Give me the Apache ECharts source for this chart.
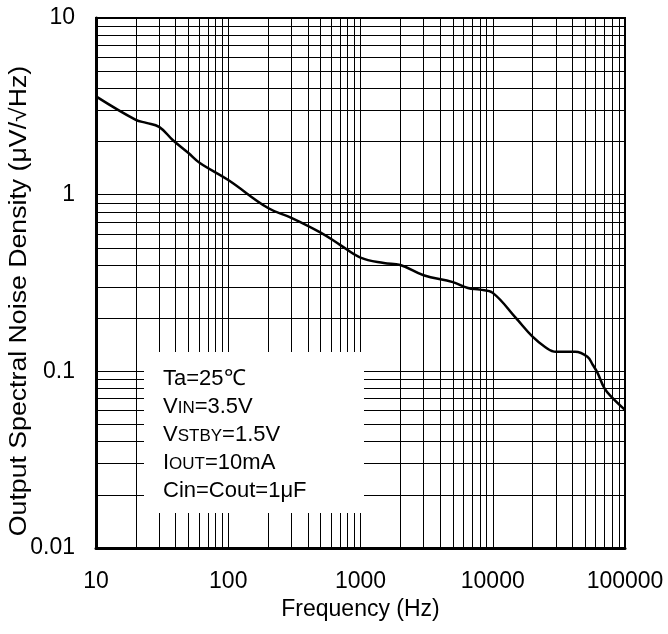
<!DOCTYPE html>
<html>
<head>
<meta charset="utf-8">
<script src="https://cdn.jsdelivr.net/npm/echarts@6.0.0/dist/echarts.min.js"></script>
<style>
  html, body { margin: 0; padding: 0; background: #fff; }
  #chart { width: 668px; height: 634px; }
</style>
</head>
<body>
<div id="chart"></div>
<script>
const freqHz = [10, 20, 24, 30, 38, 50, 61, 100, 200, 300, 500, 700, 1000, 1500, 2000, 3000, 5000, 6500, 8000, 10000, 15000, 20000, 25000, 30000, 42000, 52000, 57000, 62000, 70000, 80000, 100000];
const noise = [3.6, 2.65, 2.55, 2.42, 2.04, 1.72, 1.51, 1.21, 0.84, 0.74, 0.61, 0.52, 0.44, 0.41, 0.40, 0.35, 0.32, 0.296, 0.29, 0.278, 0.20, 0.157, 0.137, 0.129, 0.129, 0.121, 0.109, 0.098, 0.080, 0.071, 0.0605];

const xGridLines = [20, 30, 40, 50, 60, 70, 80, 90, 100, 200, 300, 400, 500, 600, 700, 800, 900, 1000,
  2000, 3000, 4000, 5000, 6000, 7000, 8000, 9000, 10000, 20000, 30000, 40000, 50000, 60000, 70000, 80000, 90000];
const yGridLines = [0.02, 0.03, 0.04, 0.05, 0.06, 0.07, 0.08, 0.09, 0.1, 0.2, 0.3, 0.4, 0.5, 0.6, 0.7, 0.8, 0.9, 1,
  2, 3, 4, 5, 6, 7, 8, 9];

const conditions = 'Ta=25℃\nV{s|IN}=3.5V\nV{s|STBY}=1.5V\nI{s|OUT}=10mA\nCin=Cout=1μF';

const FONT = '"Liberation Sans", Arial, sans-serif';
const chart = echarts.init(document.getElementById('chart'));

chart.setOption({
  animation: false,
  grid: { left: 96, right: 43, top: 18, bottom: 86, show: true, borderColor: '#000', borderWidth: 2 },
  xAxis: {
    type: 'log', logBase: 10, min: 10, max: 100000,
    name: 'Frequency (Hz)', nameLocation: 'middle', nameGap: 50,
    nameTextStyle: { fontFamily: FONT, fontSize: 23, color: '#000' },
    axisLine: { lineStyle: { color: '#000', width: 3 } },
    axisTick: { show: false },
    splitLine: { show: false },
    axisLabel: { margin: 22, fontFamily: FONT, fontSize: 23, color: '#000', formatter: v => String(Math.round(v)) }
  },
  yAxis: {
    type: 'log', logBase: 10, min: 0.01, max: 10,
    axisLine: { lineStyle: { color: '#000', width: 3 } },
    axisTick: { show: false },
    splitLine: { show: false },
    axisLabel: { margin: 21, fontFamily: FONT, fontSize: 23, color: '#000', formatter: v => String(+Number(v).toPrecision(3)) }
  },
  graphic: [
    { type: 'rect', z: 10, shape: { x: 144, y: 352, width: 220, height: 161 }, style: { fill: '#fff' } },
    {
      type: 'text', z: 11, x: 163, y: 365,
      style: {
        text: conditions, font: '22px ' + FONT, fill: '#000', lineHeight: 28,
        rich: { s: { fontSize: 17, fontFamily: FONT, fill: '#000', lineHeight: 28, padding: [3, 0, 0, 0] } }
      }
    },
    {
      type: 'text', z: 11, x: 20, y: 301, rotation: Math.PI / 2, scaleX: 1.16,
      style: { text: 'Output Spectral Noise Density (μV/√Hz)', font: '23px ' + FONT, fill: '#000', align: 'center', verticalAlign: 'middle' }
    }
  ],
  series: [
    {
      type: 'line', z: 1, data: [], silent: true,
      markLine: {
        z: 1, silent: true, symbol: ['none', 'none'], animation: false,
        label: { show: false },
        lineStyle: { color: '#000', width: 1, type: 'solid' },
        emphasis: { disabled: true },
        data: xGridLines.map(v => ({ xAxis: v })).concat(yGridLines.map(v => ({ yAxis: v })))
      }
    },
    {
      type: 'line', z: 20, smooth: 0.4, symbol: 'none',
      lineStyle: { color: '#000', width: 2.5 },
      data: freqHz.map((f, i) => [f, noise[i]])
    }
  ]
});
</script>
</body>
</html>
